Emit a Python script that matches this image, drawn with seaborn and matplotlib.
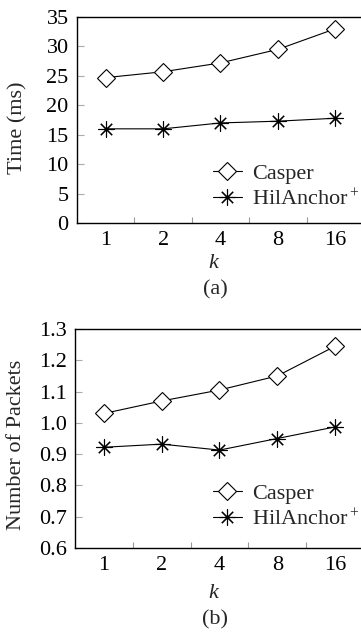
import numpy as np
import pandas as pd
import matplotlib
matplotlib.use("Agg")
import matplotlib.pyplot as plt
import seaborn as sns
from matplotlib.ticker import FixedLocator

sns.set_theme(style="white")
plt.rcParams['font.family'] = ['Liberation Serif', 'DejaVu Serif']
plt.rcParams['mathtext.fontset'] = 'custom'
plt.rcParams['mathtext.rm'] = 'Liberation Serif'
plt.rcParams['mathtext.it'] = 'Liberation Serif:italic'

# ---- data ----
k_labels = ['1', '2', '4', '8', '16']
series_names = ['Casper', 'HilAnchor$^+$']
time_casper = [24.7, 25.7, 27.2, 29.5, 33.0]
time_hil = [16.0, 16.0, 17.0, 17.3, 17.8]
pkt_casper = [1.03, 1.07, 1.105, 1.15, 1.245]
pkt_hil = [0.922, 0.932, 0.913, 0.950, 0.987]

W, H = 361, 636
fig = plt.figure(figsize=(W / 100, H / 100), dpi=100)

FS = 16
marker_shapes = {series_names[0]: 'D', series_names[1]: (8, 2, 0)}

def make_df(a, b):
    return pd.DataFrame({
        'k': k_labels * 2,
        'value': list(a) + list(b),
        'method': [series_names[0]] * len(a) + [series_names[1]] * len(b),
    })

def panel(rect_px, a, b, ylim, yticks, ylabel, ylabel_x, ylabel_y, caption, caption_y, klabel_y, legend_xy):
    l, t, r, btm = rect_px
    ax = fig.add_axes([l / W, 1 - btm / H, (r - l) / W, (btm - t) / H])
    df = make_df(a, b)
    sns.lineplot(data=df, x='k', y='value', hue='method', style='method',
                 markers=['D', 'o'], dashes=False, sort=False,
                 palette=['black', 'black'], linewidth=0.8, legend=False, ax=ax)
    for line, name in zip(ax.lines, series_names):
        line.set_label(name)
        line.set_marker(marker_shapes[name])
        line.set_markerfacecolor('white')
        line.set_markeredgecolor('black')
        line.set_markeredgewidth(0.8)
        if name == series_names[0]:
            line.set_markersize(9.5)
        else:
            line.set_markersize(11.5)
    ax.set_xlim(-0.5, 4.5)
    ax.set_ylim(*ylim)
    ax.set_yticks(yticks)
    ax.set_yticklabels([f"{v:g}" if ylim[1] > 5 else f"{v:.1f}" for v in yticks])
    ax.set_xticks(range(len(k_labels)))
    ax.set_xticklabels(k_labels)
    ax.xaxis.set_minor_locator(FixedLocator([0.5, 1.5, 2.5, 3.5]))
    ax.tick_params(axis='x', which='major', length=0, pad=6, labelsize=FS, colors='black')
    ax.tick_params(axis='x', which='minor', direction='in', length=4.5, width=0.8,
                   color='#999999', bottom=True)
    ax.tick_params(axis='y', which='major', direction='in', length=5, width=0.8,
                   color='#aaaaaa', pad=6, labelsize=FS, left=True, labelcolor='black')
    for s in ax.spines.values():
        s.set_visible(True)
        s.set_color('black')
        s.set_linewidth(1.0)
    ax.set_xlabel('')
    ax.set_ylabel(ylabel, fontsize=FS, va='center')
    ax.yaxis.set_label_coords(ylabel_x / W, 1 - ylabel_y / H, transform=fig.transFigure)
    fig.text(213 / W, 1 - klabel_y / H, 'k', fontsize=FS, style='italic', ha='center', va='center')
    fig.text(215 / W, 1 - caption_y / H, caption, fontsize=FS, ha='center', va='center')
    ax.legend(loc='lower left', frameon=False, fontsize=FS,
              bbox_to_anchor=(legend_xy[0] / W, 1 - legend_xy[1] / H),
              bbox_transform=fig.transFigure,
              borderpad=0, borderaxespad=0, handlelength=1.3,
              handletextpad=0.45, labelspacing=0.22)
    return ax

panel((77, 17, 364, 223), time_casper, time_hil, (0, 35), [0, 5, 10, 15, 20, 25, 30, 35],
      'Time (ms)', 18, 128, '(a)', 290, 263, (213, 210))
panel((75, 329, 364, 548), pkt_casper, pkt_hil, (0.6, 1.3), [0.6, 0.7, 0.8, 0.9, 1.0, 1.1, 1.2, 1.3],
      'Number of Packets', 17, 445, '(b)', 620, 593, (213, 530))

fig.savefig('out.png', dpi=100)
